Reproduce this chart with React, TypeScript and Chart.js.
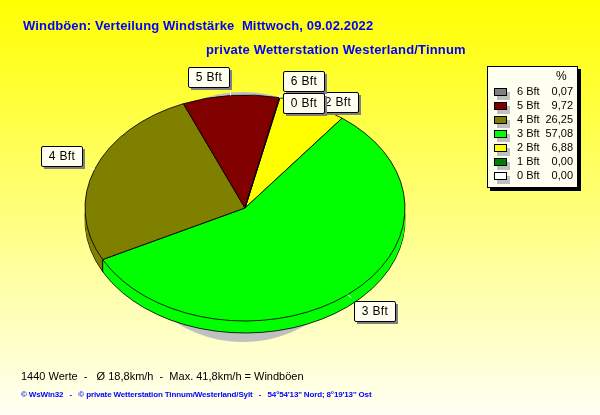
import React, { useEffect, useRef } from "react";
import { Chart, registerables } from "chart.js";

Chart.register(...registerables);

const categories = ["6 Bft", "5 Bft", "4 Bft", "3 Bft", "2 Bft", "1 Bft", "0 Bft"];
const percentages = [0.07, 9.72, 26.25, 57.08, 6.88, 0.0, 0.0];
const percentLabels = ["0,07", "9,72", "26,25", "57,08", "6,88", "0,00", "0,00"];
const colours = ["#808080", "#800000", "#808000", "#00ff00", "#ffff00", "#008000", "#ffffff"];

const titleLine1 = "Windböen: Verteilung Windstärke  Mittwoch, 09.02.2022";
const titleLine2 = "private Wetterstation Westerland/Tinnum";
const statsLine = "1440 Werte  -   Ø 18,8km/h  -  Max. 41,8km/h = Windböen";
const footerLine = "© WsWin32   -   © private Wetterstation Tinnum/Westerland/Sylt   -   54°54'13'' Nord; 8°19'13'' Ost";

const SQUASH = 113 / 160;
const DEPTH = 12;
const FONT = '"Liberation Sans", Arial, sans-serif';
const CREAM = "#fffff0";

// label box top-left relative to the slice's rim mid-point
const labelOffsets: Record<string, [number, number]> = {
  "5 Bft": [-43, -28],
  "4 Bft": [-54, -23],
  "3 Bft": [6, 6],
  "2 Bft": [4, -14],
  "6 Bft": [3, -27],
  "1 Bft": [3, -5],
  "0 Bft": [3, -5],
};
const labelOrder = ["5 Bft", "4 Bft", "3 Bft", "2 Bft", "6 Bft", "1 Bft", "0 Bft"];

const ellipsePie = {
  id: "ellipsePie",
  beforeDraw(chart: any) {
    const { ctx, width, height } = chart;
    const g = ctx.createLinearGradient(0, 0, 0, height);
    g.addColorStop(0, "#ffff00");
    g.addColorStop(1, "#fffff4");
    ctx.fillStyle = g;
    ctx.fillRect(0, 0, width, height);
  },
  beforeDatasetsDraw(chart: any) {
    const { ctx } = chart;
    const arcs: any[] = chart.getDatasetMeta(0).data;
    const cx = arcs[0].x;
    const cy = arcs[0].y;
    const r = arcs[0].outerRadius;
    // round shadow behind the disc
    ctx.save();
    ctx.fillStyle = "#c0c0c0";
    ctx.beginPath();
    ctx.arc(cx - 2, cy + 9, r * SQUASH * 1.107, 0, Math.PI * 2);
    ctx.fill();
    ctx.restore();

    const layer = (dy: number, border: boolean) => {
      ctx.save();
      ctx.translate(cx, cy + dy);
      ctx.scale(1, SQUASH);
      ctx.translate(-cx, -cy);
      for (const el of arcs) {
        if (border) {
          el.draw(ctx);
        } else {
          const ghost = Object.create(el);
          ghost.options = { ...el.options, borderWidth: 0 };
          ghost.draw(ctx);
        }
      }
      ctx.restore();
    };
    layer(DEPTH, true);
    for (let d = DEPTH - 1; d >= 1; d--) layer(d, false);
    // wall edges on the front half
    ctx.save();
    ctx.strokeStyle = "#000";
    ctx.lineWidth = 1;
    for (const el of arcs) {
      if (el.circumference < 0.001 || Math.sin(el.endAngle) <= 0) continue;
      const x = cx + r * Math.cos(el.endAngle);
      const y = cy + r * SQUASH * Math.sin(el.endAngle);
      ctx.beginPath();
      ctx.moveTo(x, y);
      ctx.lineTo(x, y + DEPTH);
      ctx.stroke();
    }
    ctx.restore();
    layer(0, true);
    return false;
  },
  afterDraw(chart: any) {
    const { ctx } = chart;
    const arcs: any[] = chart.getDatasetMeta(0).data;
    const labels: string[] = chart.data.labels;

    // title and foot texts
    ctx.textBaseline = "middle";
    ctx.textAlign = "left";
    ctx.fillStyle = "#0000ff";
    ctx.font = `bold 13px ${FONT}`;
    ctx.letterSpacing = "0.14px";
    ctx.fillText(titleLine1, 23, 26.5);
    ctx.letterSpacing = "0.18px";
    ctx.fillText(titleLine2, 206, 50);
    ctx.letterSpacing = "0px";
    ctx.fillStyle = "#000";
    ctx.font = `11px ${FONT}`;
    ctx.fillText(statsLine, 21, 377);
    ctx.fillStyle = "#0000ff";
    ctx.font = `bold 8px ${FONT}`;
    ctx.letterSpacing = "-0.14px";
    ctx.fillText(footerLine, 21, 394.5);
    ctx.letterSpacing = "0px";

    // slice call-outs
    const box = (x: number, y: number, w: number, h: number) => {
      ctx.fillStyle = "#808080";
      ctx.fillRect(x + 3, y + 3, w, h);
      ctx.fillStyle = CREAM;
      ctx.strokeStyle = "#000";
      ctx.lineWidth = 1;
      ctx.beginPath();
      ctx.roundRect(x + 0.5, y + 0.5, w, h, 1.5);
      ctx.fill();
      ctx.stroke();
    };
    for (const name of labelOrder) {
      const el = arcs[labels.indexOf(name)];
      const mid = (el.startAngle + el.endAngle) / 2;
      const ax = el.x + el.outerRadius * Math.cos(mid);
      const ay = el.y + el.outerRadius * SQUASH * Math.sin(mid);
      const [ox, oy] = labelOffsets[name];
      const bx = Math.round(ax + ox);
      const by = Math.round(ay + oy);
      ctx.strokeStyle = "#ffffff";
      ctx.lineWidth = 1;
      ctx.beginPath();
      ctx.moveTo(ax, ay);
      ctx.lineTo(ax + 6 * Math.cos(mid), ay + 4 * Math.sin(mid));
      ctx.stroke();
      box(bx, by, 41, 20);
      ctx.fillStyle = "#000";
      ctx.font = `12px ${FONT}`;
      ctx.letterSpacing = "0.4px";
      ctx.textAlign = "center";
      ctx.fillText(name, bx + 21, by + 11);
      ctx.letterSpacing = "0px";
    }

    // value table
    const lx = 487;
    const ly = 66;
    const lw = 90;
    const lh = 121;
    ctx.fillStyle = "#000";
    ctx.fillRect(lx + 3, ly + 3, lw + 1, lh + 1);
    ctx.fillStyle = CREAM;
    ctx.fillRect(lx, ly, lw, lh);
    ctx.strokeStyle = "#000";
    ctx.lineWidth = 1;
    ctx.strokeRect(lx + 0.5, ly + 0.5, lw, lh);
    ctx.font = `12px ${FONT}`;
    ctx.fillStyle = "#000";
    ctx.textAlign = "left";
    ctx.fillText("%", 556, 76.5);
    ctx.font = `11px ${FONT}`;
    categories.forEach((name, i) => {
      const y = 92 + i * 14;
      ctx.fillStyle = "#c0c0c0";
      ctx.fillRect(497, y, 13, 8);
      ctx.fillStyle = colours[i];
      ctx.fillRect(494.5, y - 3.5, 12, 7);
      ctx.strokeStyle = "#000";
      ctx.strokeRect(494.5, y - 3.5, 12, 7);
      ctx.fillStyle = "#000";
      ctx.textAlign = "left";
      ctx.fillText(name, 517, y);
      ctx.textAlign = "right";
      ctx.fillText(percentLabels[i], 573, y);
    });
  },
};

export default function App() {
  const ref = useRef<HTMLCanvasElement>(null);
  useEffect(() => {
    if (!ref.current) return;
    const chart = new Chart(ref.current, {
      type: "pie",
      data: {
        labels: [...categories].reverse(),
        datasets: [
          {
            data: [...percentages].reverse(),
            backgroundColor: [...colours].reverse(),
            borderColor: "#000000",
            borderWidth: 1,
            borderAlign: "center",
            radius: 160,
          } as any,
        ],
      },
      options: {
        animation: false,
        responsive: false,
        devicePixelRatio: 1,
        rotation: 12.6,
        layout: { padding: { left: 0, right: 110, top: 1, bottom: 0 } },
        plugins: { legend: { display: false }, tooltip: { enabled: false }, title: { display: false } },
      },
      plugins: [ellipsePie],
    });
    return () => chart.destroy();
  }, []);
  return (
    <div style={{ position: "fixed", left: 0, top: 0, width: 600, height: 415 }}>
      <canvas ref={ref} width={600} height={415} style={{ display: "block" }} />
    </div>
  );
}
